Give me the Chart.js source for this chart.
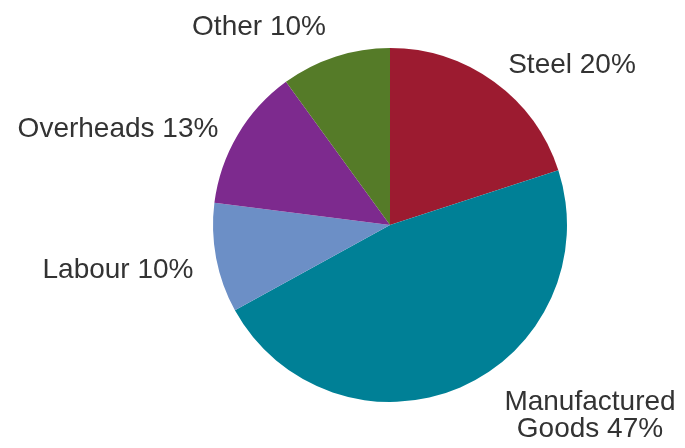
<!DOCTYPE html>
<html>
<head>
<meta charset="utf-8">
<title>Cost breakdown</title>
<script src="https://cdn.jsdelivr.net/npm/chart.js@4/dist/chart.umd.min.js"></script>
<style>
  html, body { margin: 0; padding: 0; background: #fff; }
  #cost-chart { display: block; }
</style>
</head>
<body>
<canvas id="cost-chart" width="685" height="448"></canvas>
<script>
let costCanvas = document.getElementById("cost-chart");

// Pie data, clockwise from 12 o'clock
const categories = ["Steel", "Manufactured Goods", "Labour", "Overheads", "Other"];
const shares = [20, 47, 10, 13, 10];
const sliceColors = ["#9c1b30", "#008096", "#6c8fc6", "#7d2a8e", "#557b28"];

// Where each label sits relative to the pie centre (px), and whether it wraps
const labelLayout = [
    { dx: 182, dy: -152, wrap: false },
    { dx: 200, dy: 185, wrap: true },
    { dx: -272, dy: 53, wrap: false },
    { dx: -272, dy: -88, wrap: false },
    { dx: -131, dy: -190, wrap: false }
];

// Draws "Name NN%" next to each slice
const sliceLabels = {
    id: 'sliceLabels',
    afterDatasetsDraw(chart) {
        const ctx = chart.ctx;
        const arcs = chart.getDatasetMeta(0).data;
        ctx.save();
        ctx.font = '28px "Liberation Sans", Arial, sans-serif';
        ctx.fillStyle = '#333333';
        ctx.textAlign = 'center';
        ctx.textBaseline = 'alphabetic';
        arcs.forEach((arc, i) => {
            const pos = labelLayout[i];
            const text = categories[i] + ' ' + shares[i] + '%';
            let lines = [text];
            if (pos.wrap) {
                const cut = text.indexOf(' ');
                lines = [text.slice(0, cut), text.slice(cut + 1)];
            }
            lines.forEach((line, n) => {
                ctx.fillText(line, arc.x + pos.dx, arc.y + pos.dy + n * 27);
            });
        });
        ctx.restore();
    }
};

const costData = {
    labels: categories,
    datasets: [{
        data: shares,
        backgroundColor: sliceColors,
        borderWidth: 0
    }]
};

const costOptions = {
    responsive: false,
    animation: false,
    layout: {
        padding: { top: 48, bottom: 46, left: 213, right: 118 }
    },
    plugins: {
        legend: { display: false },
        tooltip: { enabled: false }
    }
};

let costChart = new Chart(costCanvas, {
    type: 'pie',
    data: costData,
    options: costOptions,
    plugins: [sliceLabels]
});
</script>
</body>
</html>
